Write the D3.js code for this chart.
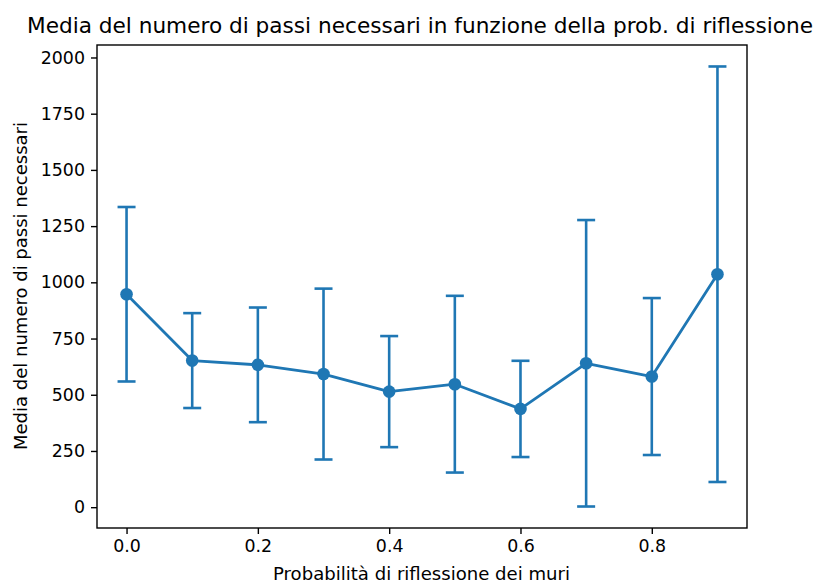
<!DOCTYPE html>
<html>
<head>
<meta charset="utf-8">
<script src="https://cdn.jsdelivr.net/npm/d3@7"></script>
<style>
  body { margin: 0; background: #fff; }
  svg { font-family: "DejaVu Sans", sans-serif; }
</style>
</head>
<body>
<div id="chart"></div>
<script>
// reflection probability, mean steps, std dev
const probs = [0.0, 0.1, 0.2, 0.3, 0.4, 0.5, 0.6, 0.7, 0.8, 0.9];
const means = [947, 652, 633, 592, 514, 547, 437, 640, 581, 1036];
const errs = [388, 211, 255, 380, 247, 393, 214, 637, 349, 924];
const yTicks = [0, 250, 500, 750, 1000, 1250, 1500, 1750, 2000];
const xTicks = [0.0, 0.2, 0.4, 0.6, 0.8];

const width = 820, height = 584;
const margin = { left: 97, right: 73, top: 45, bottom: 56 };
const blue = '#1f77b4';

const svg = d3.select('#chart').append('svg')
    .attr('width', width)
    .attr('height', height);

const x = d3.scaleLinear()
    .domain([-0.045, 0.945])
    .range([margin.left, width - margin.right]);

const y = d3.scaleLinear()
    .domain([-92.6, 2055.5])
    .range([height - margin.bottom, margin.top]);

// axes
const xAxis = svg.append('g')
    .attr('transform', 'translate(0,' + (height - margin.bottom) + ')')
    .call(d3.axisBottom(x).tickValues(xTicks).tickFormat(d3.format('.1f')).tickSize(6).tickPadding(6));

const yAxis = svg.append('g')
    .attr('transform', 'translate(' + margin.left + ',0)')
    .call(d3.axisLeft(y).tickValues(yTicks).tickFormat(d => d).tickSize(6).tickPadding(6));

[xAxis, yAxis].forEach(a => {
    a.select('.domain').remove();
    a.selectAll('line').attr('stroke', '#000').attr('stroke-width', 1.4);
    a.selectAll('text').attr('fill', '#000').style('font-size', '17.4px')
        .style('font-family', '"DejaVu Sans", sans-serif');
});

// frame
svg.append('rect')
    .attr('x', margin.left)
    .attr('y', margin.top)
    .attr('width', width - margin.left - margin.right)
    .attr('height', height - margin.top - margin.bottom)
    .attr('fill', 'none')
    .attr('stroke', '#000')
    .attr('stroke-width', 1.4);

// error bars
const capHalf = 9;
const bars = svg.append('g').attr('class', 'errorbars')
    .selectAll('g')
    .data(probs)
    .enter().append('g')
    .attr('stroke', blue)
    .attr('stroke-width', 2.6);

bars.append('line')
    .attr('x1', d => x(d)).attr('x2', d => x(d))
    .attr('y1', (d, i) => y(means[i] - errs[i]))
    .attr('y2', (d, i) => y(means[i] + errs[i]));

bars.append('line')
    .attr('x1', d => x(d) - capHalf).attr('x2', d => x(d) + capHalf)
    .attr('y1', (d, i) => y(means[i] + errs[i]))
    .attr('y2', (d, i) => y(means[i] + errs[i]));

bars.append('line')
    .attr('x1', d => x(d) - capHalf).attr('x2', d => x(d) + capHalf)
    .attr('y1', (d, i) => y(means[i] - errs[i]))
    .attr('y2', (d, i) => y(means[i] - errs[i]));

// mean line
const line = d3.line()
    .x(d => x(d))
    .y((d, i) => y(means[i]));

svg.append('path')
    .datum(probs)
    .attr('d', line)
    .attr('fill', 'none')
    .attr('stroke', blue)
    .attr('stroke-width', 2.8)
    .attr('stroke-linejoin', 'round');

svg.append('g')
    .selectAll('circle')
    .data(probs)
    .enter().append('circle')
    .attr('cx', d => x(d))
    .attr('cy', (d, i) => y(means[i]))
    .attr('r', 6.3)
    .attr('fill', blue);

// titles
svg.append('text')
    .attr('x', 420)
    .attr('y', 33)
    .attr('text-anchor', 'middle')
    .attr('textLength', 786)
    .attr('lengthAdjust', 'spacingAndGlyphs')
    .style('font-size', '21.2px')
    .text('Media del numero di passi necessari in funzione della prob. di riflessione');

svg.append('text')
    .attr('x', 421.5)
    .attr('y', 580)
    .attr('text-anchor', 'middle')
    .attr('textLength', 297)
    .attr('lengthAdjust', 'spacingAndGlyphs')
    .style('font-size', '17.8px')
    .text('Probabilità di riflessione dei muri');

svg.append('text')
    .attr('transform', 'translate(27,286) rotate(-90)')
    .attr('text-anchor', 'middle')
    .attr('textLength', 328)
    .attr('lengthAdjust', 'spacingAndGlyphs')
    .style('font-size', '17.8px')
    .text('Media del numero di passi necessari');
</script>
</body>
</html>
